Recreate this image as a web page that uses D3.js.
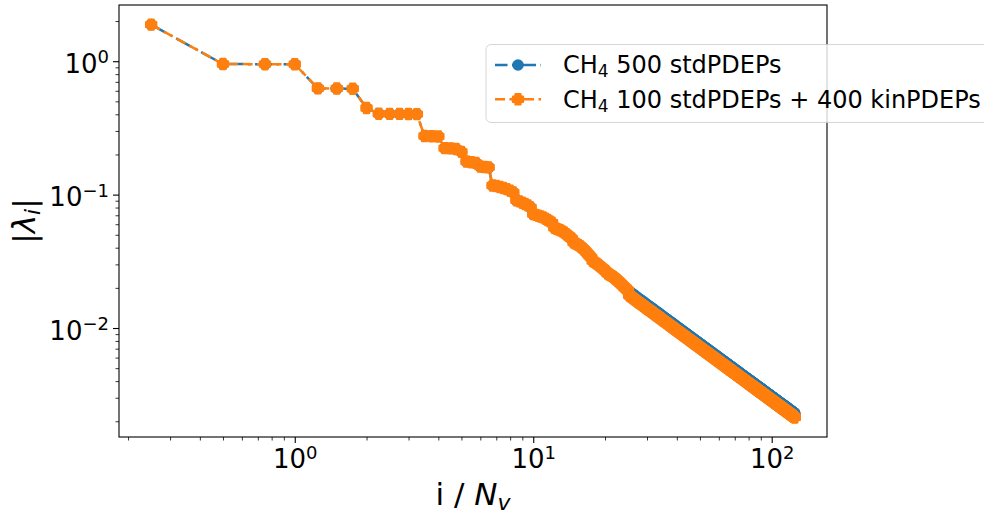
<!DOCTYPE html>
<html><head><meta charset="utf-8">
<script src="https://cdn.jsdelivr.net/npm/d3@7"></script>
<style>
body{margin:0;background:#fff}
svg{display:block}
text{font-family:"DejaVu Sans",sans-serif;white-space:pre}
</style>
</head><body>
<svg id="c" width="984" height="515"></svg>
<script>
// ---------------- data ----------------
const Nv = 4; // x = i / N_v
// first 100 eigenvalues: identical for both runs (same 100 stdPDEPs)
const sharedFirst100 = [
1.88,
0.952,0.950,0.948,
0.626,0.624,0.622,
0.446,
0.404,0.403,0.403,0.402,0.401,
0.275,0.274,0.273,
0.223,0.222,0.220,0.209,
0.177,0.175,0.173,
0.162,0.161,0.160,
0.117,0.116,0.114,0.112,0.110,0.107,0.104,
0.0905,0.089,0.087,0.085,0.083,0.080,
0.0715,0.0705,0.0695,0.0685,0.0675,0.0660,0.0645,0.0630,0.0615,
0.0565,0.0555,0.0548,0.0540,0.0530,0.0520,0.0505,0.0492,0.0480,0.0470,
0.0438,0.0432,0.0425,0.0418,0.0410,0.0400,0.0390,0.0380,0.0368,0.0357,0.0347,0.0338,
0.0318,0.0313,0.0308,0.0303,0.0298,0.0292,0.0286,0.0280,0.0275,0.0270,0.0265,
0.0256,0.0253,0.0250,0.0247,0.0244,0.0240,0.0236,0.0232,0.0228,0.0224,0.0220,0.0216,0.0212,0.0208,0.0204,0.0200,0.0197,0.0194,0.0191
];
// i = 101..500, CH4 500 stdPDEPs
const blueTail = [
0.01878,0.01855,0.01833,0.01810,0.01788,0.01766,0.01743,0.01721,0.01698,0.01676,
0.01658,0.01640,0.01622,0.01604,0.01586,0.01567,0.01549,0.01531,0.01513,0.01495,
0.01480,0.01465,0.01450,0.01435,0.01421,0.01406,0.01391,0.01376,0.01361,0.01346,
0.01334,0.01321,0.01309,0.01296,0.01284,0.01271,0.01259,0.01246,0.01234,0.01221,
0.01210,0.01200,0.01189,0.01179,0.01168,0.01157,0.01147,0.01136,0.01126,0.01115,
0.01106,0.01097,0.01088,0.01079,0.01070,0.01060,0.01051,0.01042,0.01033,0.01024,
0.01016,0.01008,0.01000,0.009927,0.009849,0.009770,0.009692,0.009614,0.009535,0.009457,
0.009389,0.009320,0.009252,0.009183,0.009115,0.009046,0.008978,0.008909,0.008841,0.008772,
0.008712,0.008651,0.008591,0.008531,0.008471,0.008410,0.008350,0.008290,0.008229,0.008169,
0.008116,0.008062,0.008009,0.007956,0.007903,0.007849,0.007796,0.007743,0.007689,0.007636,
0.007589,0.007541,0.007494,0.007447,0.007400,0.007352,0.007305,0.007258,0.007210,0.007163,
0.007121,0.007078,0.007036,0.006993,0.006951,0.006908,0.006866,0.006823,0.006781,0.006738,
0.006700,0.006661,0.006623,0.006585,0.006547,0.006508,0.006470,0.006432,0.006393,0.006355,
0.006320,0.006286,0.006251,0.006216,0.006182,0.006147,0.006112,0.006077,0.006043,0.006008,
0.005977,0.005945,0.005914,0.005882,0.005851,0.005820,0.005788,0.005757,0.005725,0.005694,
0.005665,0.005637,0.005608,0.005579,0.005551,0.005522,0.005493,0.005464,0.005436,0.005407,
0.005381,0.005355,0.005328,0.005302,0.005276,0.005250,0.005224,0.005197,0.005171,0.005145,
0.005121,0.005097,0.005073,0.005049,0.005025,0.005001,0.004977,0.004953,0.004929,0.004905,
0.004883,0.004861,0.004839,0.004817,0.004795,0.004772,0.004750,0.004728,0.004706,0.004684,
0.004664,0.004643,0.004623,0.004602,0.004582,0.004562,0.004541,0.004521,0.004500,0.004480,
0.004461,0.004442,0.004424,0.004405,0.004386,0.004367,0.004348,0.004330,0.004311,0.004292,
0.004275,0.004257,0.004240,0.004222,0.004205,0.004187,0.004170,0.004152,0.004135,0.004117,
0.004101,0.004084,0.004068,0.004051,0.004035,0.004019,0.004002,0.003986,0.003969,0.003953,
0.003938,0.003923,0.003907,0.003892,0.003877,0.003862,0.003847,0.003831,0.003816,0.003801,
0.003787,0.003773,0.003758,0.003744,0.003730,0.003716,0.003702,0.003687,0.003673,0.003659,
0.003646,0.003632,0.003619,0.003606,0.003593,0.003579,0.003566,0.003553,0.003539,0.003526,
0.003514,0.003501,0.003489,0.003476,0.003464,0.003451,0.003439,0.003426,0.003414,0.003401,
0.003389,0.003378,0.003366,0.003354,0.003343,0.003331,0.003319,0.003307,0.003296,0.003284,
0.003273,0.003262,0.003251,0.003240,0.003229,0.003217,0.003206,0.003195,0.003184,0.003173,
0.003163,0.003152,0.003142,0.003131,0.003121,0.003111,0.003100,0.003090,0.003079,0.003069,
0.003059,0.003049,0.003040,0.003030,0.003020,0.003010,0.003000,0.002991,0.002981,0.002971,
0.002962,0.002952,0.002943,0.002934,0.002925,0.002915,0.002906,0.002897,0.002887,0.002878,
0.002869,0.002860,0.002852,0.002843,0.002834,0.002825,0.002816,0.002808,0.002799,0.002790,
0.002782,0.002773,0.002765,0.002757,0.002749,0.002740,0.002732,0.002724,0.002715,0.002707,
0.002699,0.002691,0.002684,0.002676,0.002668,0.002660,0.002652,0.002645,0.002637,0.002629,
0.002622,0.002614,0.002607,0.002599,0.002592,0.002584,0.002577,0.002569,0.002562,0.002554,
0.002547,0.002540,0.002532,0.002525,0.002518,0.002511,0.002504,0.002496,0.002489,0.002482,
0.002475,0.002468,0.002462,0.002455,0.002448,0.002441,0.002434,0.002428,0.002421,0.002414,
0.002408,0.002401,0.002395,0.002388,0.002382,0.002376,0.002369,0.002363,0.002356,0.002350,
0.002344,0.002338,0.002331,0.002325,0.002319,0.002313,0.002307,0.002300,0.002294,0.002288
];
// i = 101..500, CH4 100 stdPDEPs + 400 kinPDEPs
const orangeTail = [
0.01755,0.01734,0.01713,0.01692,0.01671,0.01650,0.01630,0.01609,0.01588,0.01567,
0.01550,0.01533,0.01516,0.01499,0.01483,0.01466,0.01449,0.01432,0.01415,0.01398,
0.01384,0.01370,0.01356,0.01342,0.01329,0.01315,0.01301,0.01287,0.01273,0.01259,
0.01247,0.01236,0.01224,0.01212,0.01201,0.01189,0.01177,0.01165,0.01154,0.01142,
0.01132,0.01122,0.01112,0.01102,0.01093,0.01083,0.01073,0.01063,0.01053,0.01043,
0.01034,0.01026,0.01017,0.01009,0.01000,0.009916,0.009831,0.009745,0.009660,0.009574,
0.009501,0.009428,0.009354,0.009281,0.009208,0.009135,0.009062,0.008988,0.008915,0.008842,
0.008778,0.008714,0.008650,0.008586,0.008522,0.008458,0.008394,0.008330,0.008266,0.008202,
0.008146,0.008089,0.008033,0.007976,0.007920,0.007864,0.007807,0.007751,0.007694,0.007638,
0.007588,0.007538,0.007489,0.007439,0.007389,0.007339,0.007289,0.007240,0.007190,0.007140,
0.007096,0.007051,0.007007,0.006963,0.006919,0.006874,0.006830,0.006786,0.006741,0.006697,
0.006657,0.006618,0.006578,0.006538,0.006499,0.006459,0.006419,0.006379,0.006340,0.006300,
0.006264,0.006228,0.006193,0.006157,0.006121,0.006085,0.006049,0.006014,0.005978,0.005942,
0.005910,0.005877,0.005845,0.005812,0.005780,0.005747,0.005715,0.005682,0.005650,0.005617,
0.005588,0.005558,0.005529,0.005500,0.005471,0.005441,0.005412,0.005383,0.005353,0.005324,
0.005297,0.005270,0.005244,0.005217,0.005190,0.005163,0.005136,0.005110,0.005083,0.005056,
0.005032,0.005007,0.004983,0.004958,0.004934,0.004909,0.004885,0.004860,0.004836,0.004811,
0.004789,0.004766,0.004744,0.004721,0.004699,0.004676,0.004654,0.004631,0.004609,0.004586,
0.004565,0.004545,0.004524,0.004504,0.004483,0.004462,0.004442,0.004421,0.004401,0.004380,
0.004361,0.004342,0.004323,0.004304,0.004285,0.004265,0.004246,0.004227,0.004208,0.004189,
0.004171,0.004154,0.004136,0.004119,0.004101,0.004083,0.004066,0.004048,0.004031,0.004013,
0.003997,0.003980,0.003964,0.003947,0.003931,0.003915,0.003898,0.003882,0.003865,0.003849,
0.003834,0.003818,0.003803,0.003788,0.003773,0.003757,0.003742,0.003727,0.003711,0.003696,
0.003682,0.003668,0.003653,0.003639,0.003625,0.003611,0.003597,0.003582,0.003568,0.003554,
0.003541,0.003527,0.003514,0.003501,0.003488,0.003474,0.003461,0.003448,0.003434,0.003421,
0.003409,0.003396,0.003384,0.003371,0.003359,0.003347,0.003334,0.003322,0.003309,0.003297,
0.003285,0.003274,0.003262,0.003250,0.003239,0.003227,0.003215,0.003203,0.003192,0.003180,
0.003169,0.003158,0.003147,0.003136,0.003126,0.003115,0.003104,0.003093,0.003082,0.003071,
0.003061,0.003050,0.003040,0.003029,0.003019,0.003009,0.002998,0.002988,0.002977,0.002967,
0.002957,0.002948,0.002938,0.002928,0.002919,0.002909,0.002899,0.002889,0.002880,0.002870,
0.002861,0.002852,0.002842,0.002833,0.002824,0.002815,0.002806,0.002796,0.002787,0.002778,
0.002769,0.002761,0.002752,0.002743,0.002735,0.002726,0.002717,0.002708,0.002700,0.002691,
0.002683,0.002675,0.002666,0.002658,0.002650,0.002642,0.002634,0.002625,0.002617,0.002609,
0.002601,0.002593,0.002586,0.002578,0.002570,0.002562,0.002554,0.002547,0.002539,0.002531,
0.002524,0.002516,0.002509,0.002502,0.002495,0.002487,0.002480,0.002473,0.002465,0.002458,
0.002451,0.002444,0.002437,0.002430,0.002423,0.002416,0.002409,0.002402,0.002395,0.002388,
0.002381,0.002375,0.002368,0.002361,0.002355,0.002348,0.002341,0.002334,0.002328,0.002321,
0.002315,0.002308,0.002302,0.002295,0.002289,0.002283,0.002276,0.002270,0.002263,0.002257,
0.002251,0.002245,0.002239,0.002233,0.002227,0.002221,0.002215,0.002209,0.002203,0.002197,
0.002191,0.002185,0.002180,0.002174,0.002168,0.002162,0.002157,0.002151,0.002145,0.002139
];
const xTickValues = [1, 10, 100];
const xTickExponents = ["0", "1", "2"];
const yTickValues = [1, 0.1, 0.01];
const yTickExponents = ["0", "\u22121", "\u22122"];
const seriesNames = [["CH", "4", " 500 stdPDEPs"], ["CH", "4", " 100 stdPDEPs + 400 kinPDEPs"]];

// ---------------- chart ----------------
const blue = sharedFirst100.concat(blueTail);
const orange = sharedFirst100.concat(orangeTail);
const BLUE = "#1f77b4", ORANGE = "#ff7f0e";
const L = 119, R = 827, T = 5, B = 437;

const svg = d3.select("#c");
function logPad(lo, hi) {
  const a = Math.log10(lo), b = Math.log10(hi), m = 0.05 * (b - a);
  return [Math.pow(10, a - m), Math.pow(10, b + m)];
}
const xIdx = (d, k) => (k + 1) / Nv;
const x = d3.scaleLog().domain(logPad(1 / Nv, blue.length / Nv)).range([L, R]);
const allY = blue.concat(orange);
const y = d3.scaleLog().domain(logPad(d3.min(allY), d3.max(allY))).range([B, T]);

const line = d3.line().x((d, k) => x(xIdx(d, k))).y(d => y(d));
const plusPath = (() => {
  const a = 2.4, e = 4.9;
  return `M${-a},${-e}L${a},${-e}L${a},${-a}L${e},${-a}L${e},${a}L${a},${a}L${a},${e}L${-a},${e}L${-a},${a}L${-e},${a}L${-e},${-a}L${-a},${-a}Z`;
})();
const LW = 2.5, BLUE_DASH = "17,4.5,2.5,4.5", ORANGE_DASH = "10,4.5";

const plot = svg.append("g");
// blue series
plot.append("path").attr("d", line(blue)).attr("fill", "none")
  .attr("stroke", BLUE).attr("stroke-width", LW).attr("stroke-dasharray", BLUE_DASH);
plot.append("g").selectAll("circle").data(blue).join("circle")
  .attr("cx", (d, k) => x(xIdx(d, k))).attr("cy", d => y(d)).attr("r", 5.8).attr("fill", BLUE);
// orange series
plot.append("path").attr("d", line(orange)).attr("fill", "none")
  .attr("stroke", ORANGE).attr("stroke-width", LW).attr("stroke-dasharray", ORANGE_DASH);
plot.append("g").selectAll("path").data(orange).join("path")
  .attr("d", plusPath).attr("fill", ORANGE).attr("stroke", ORANGE).attr("stroke-width", 2.6).attr("stroke-linejoin", "round")
  .attr("transform", (d, k) => `translate(${x(xIdx(d, k))},${y(d)})`);

// axes
const tickFont = 26;
function supLabel(sel, exps) {
  sel.each(function (d, k) {
    const t = d3.select(this).text(null);
    t.append("tspan").text("10");
    t.append("tspan").attr("font-size", 18).attr("dy", -9.5).text(exps[k]);
  });
}
const minorX = x.ticks().filter(v => !xTickValues.some(m => Math.abs(m - v) < 1e-9));
const minorY = y.ticks().filter(v => !yTickValues.some(m => Math.abs(m - v) / m < 1e-9));

const gxMinor = svg.append("g").attr("transform", `translate(0,${B})`)
  .call(d3.axisBottom(x).tickValues(minorX).tickSize(3.5).tickFormat(""));
const gx = svg.append("g").attr("transform", `translate(0,${B})`)
  .call(d3.axisBottom(x).tickValues(xTickValues).tickSize(6).tickPadding(6));
const gyMinor = svg.append("g").attr("transform", `translate(${L},0)`)
  .call(d3.axisLeft(y).tickValues(minorY).tickSize(3.5).tickFormat(""));
const gy = svg.append("g").attr("transform", `translate(${L},0)`)
  .call(d3.axisLeft(y).tickValues(yTickValues).tickSize(6).tickPadding(4));
[gxMinor, gx, gyMinor, gy].forEach(g => { g.select(".domain").remove(); g.attr("font-family", null).attr("font-size", null); });
gxMinor.selectAll("line").attr("stroke-width", 0.8);
gyMinor.selectAll("line").attr("stroke-width", 0.8);
gx.selectAll("line").attr("stroke-width", 1.1);
gy.selectAll("line").attr("stroke-width", 1.1);
gx.selectAll("text").attr("font-size", tickFont).attr("fill", "#000").attr("y", 31).attr("dy", null).call(supLabel, xTickExponents);
gy.selectAll("text").attr("font-size", tickFont).attr("fill", "#000").attr("x", -10).attr("dy", 11).call(supLabel, yTickExponents);

// spines
svg.append("rect").attr("x", L).attr("y", T).attr("width", R - L).attr("height", B - T)
  .attr("fill", "none").attr("stroke", "#000").attr("stroke-width", 1.1);

// axis labels
const xl = svg.append("text").attr("x", (L + R) / 2).attr("y", 505).attr("text-anchor", "middle").attr("font-size", 31);
xl.append("tspan").text("i / ");
xl.append("tspan").attr("font-style", "italic").text("N");
xl.append("tspan").attr("font-style", "italic").attr("font-size", 22).attr("dy", 5).text("v");

const yl = svg.append("text").attr("transform", `translate(35,${(T + B) / 2}) rotate(-90)`)
  .attr("text-anchor", "middle").attr("font-size", 31);
yl.append("tspan").text("|");
yl.append("tspan").attr("font-style", "italic").text("\u03bb");
yl.append("tspan").attr("font-style", "italic").attr("font-size", 22).attr("dy", 5).text("i");
yl.append("tspan").attr("dy", -5).text("|");

// legend
const lg = svg.append("g");
lg.append("rect").attr("x", 486).attr("y", 44.5).attr("width", 520).attr("height", 78).attr("rx", 5)
  .attr("fill", "#fff").attr("fill-opacity", 0.8).attr("stroke", "#ccc").attr("stroke-opacity", 0.8).attr("stroke-width", 1);
const rows = [
  { cy: 65, base: 73.3, color: BLUE, dash: BLUE_DASH, offset: 4.5, marker: "circle" },
  { cy: 99.3, base: 108, color: ORANGE, dash: ORANGE_DASH, offset: 0, marker: "plus" }
];
rows.forEach((r, k) => {
  lg.append("line").attr("x1", 495).attr("x2", 541).attr("y1", r.cy).attr("y2", r.cy)
    .attr("stroke", r.color).attr("stroke-width", LW).attr("stroke-dasharray", r.dash).attr("stroke-dashoffset", r.offset);
  if (r.marker === "circle") lg.append("circle").attr("cx", 518).attr("cy", r.cy).attr("r", 5.8).attr("fill", r.color);
  else lg.append("path").attr("d", plusPath).attr("fill", r.color).attr("stroke", r.color).attr("stroke-width", 2.6)
    .attr("stroke-linejoin", "round").attr("transform", `translate(518,${r.cy})`);
  const t = lg.append("text").attr("x", 563).attr("y", r.base).attr("font-size", 24);
  t.append("tspan").text(seriesNames[k][0]);
  t.append("tspan").attr("font-size", 17).attr("dy", 3.5).text(seriesNames[k][1]);
  t.append("tspan").attr("dy", -3.5).text(seriesNames[k][2]);
});
</script>
</body></html>
